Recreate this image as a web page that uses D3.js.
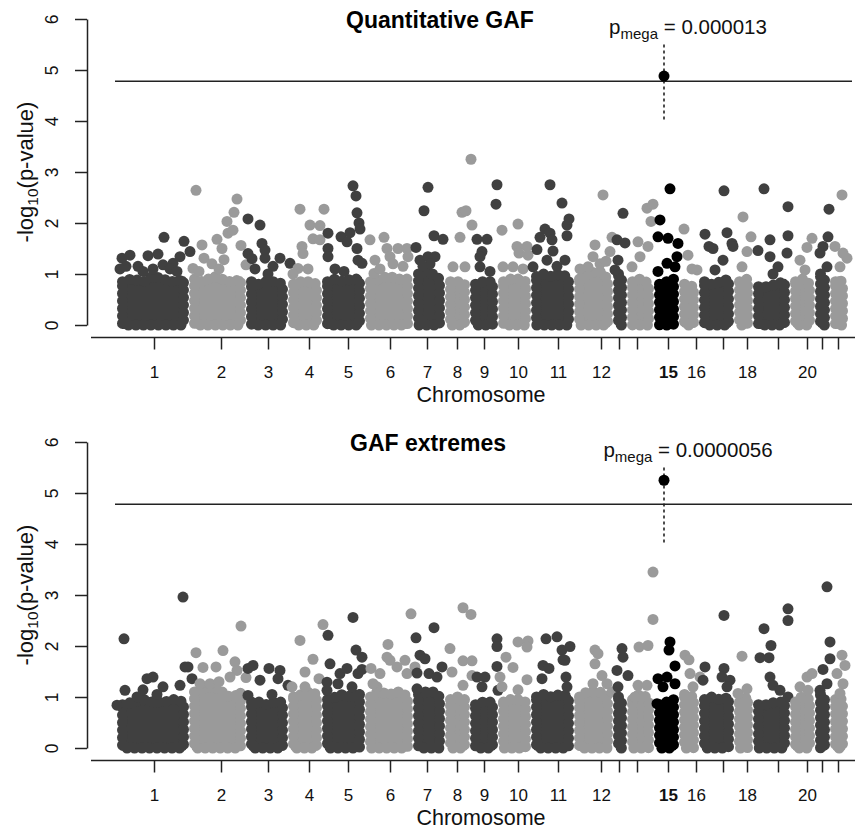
<!DOCTYPE html>
<html>
<head>
<meta charset="utf-8">
<script src="https://cdn.jsdelivr.net/npm/d3@7"></script>
<style>
  body { margin: 0; background: #fff; }
  svg { display: block; font-family: "Liberation Sans", Arial, sans-serif; }
</style>
</head>
<body>
<div id="chart"></div>
<script>
// chromosome layout (marker index units)
const chromosomes = d3.range(1, 23);
const chrLength = [720, 570, 420, 340, 430, 480, 320, 250, 280, 330, 430, 390, 140, 270, 250, 200, 350, 190, 370, 250, 150, 180];
const chrTickPos = [370, 320, 220, 210, 260, 250, 140, 120, 140, 200, 270, 270, 60, 100, 140, 170, 240, 130, 250, 170, 70, 80];
const chrLabelled = [1, 2, 3, 4, 5, 6, 7, 8, 9, 10, 11, 12, 15, 16, 18, 20];
const highlightChr = 15;
const threshold = 4.78;
const yTicks = [0, 1, 2, 3, 4, 5, 6];

const panelTitles = ['Quantitative GAF', 'GAF extremes'];

// upper edge of the dense block of points, sampled evenly along each chromosome
const quantProfile = [
  "0.85 0.9 0.85 0.95 0.9 0.85 0.9", "0.9 0.85 0.95 0.9 0.85 0.9", "0.85 0.8 0.85 0.85 0.8",
  "0.8 0.85 0.85 0.8", "0.85 0.9 0.85 0.9 0.9", "0.85 0.9 0.95 0.9 0.9", "1.0 1.05 1.0 0.9",
  "0.85 0.85 0.8", "0.8 0.85 0.85", "0.85 0.9 0.9 0.85", "0.95 1.0 0.95 1.0 0.9",
  "0.9 1.0 1.05 0.9", "1.0 0.95", "0.85 0.9 0.8", "0.8 0.85 0.9", "0.8 0.75",
  "0.85 0.8 0.85 0.9", "0.85 0.9", "0.75 0.75 0.8 0.85", "0.85 0.9 0.8", "1.0 0.9", "0.85 0.9 0.8"
];
const extremeProfile = [
  "0.85 0.9 0.95 0.9 0.9 0.95 0.9", "1.1 1.15 1.2 1.1 1.0 1.1", "0.9 0.9 0.85 0.9 0.9",
  "1.0 1.05 1.1 1.05", "0.95 1.0 1.05 1.0 1.1", "1.0 1.1 1.05 1.1 1.0", "1.05 1.1 1.1 1.0",
  "0.95 1.0 0.95", "0.85 0.9 0.9", "0.9 0.95 0.95 0.9", "1.0 1.05 1.0 1.05 1.0",
  "1.0 1.1 1.1 1.0", "1.0 0.95", "0.95 1.05 0.95", "0.85 0.9 0.95", "1.05 1.0",
  "0.95 1.0 0.95 1.0", "0.9 1.0", "0.85 0.85 0.9 0.9", "0.9 1.0 0.95", "1.05 1.0", "0.95 1.0 0.9"
];

// points standing out above the block: "position:-log10(p)"
const quantPoints = [
  "50:1.31 130:1.37 90:1.15 310:1.36 410:1.39 470:1.72 460:1.18 560:1.21 670:1.64 630:1.34 730:1.44 210:1.15 260:1.05 530:1.1 30:1.1 360:1.1 600:1.05",
  "70:2.64 130:1.57 40:1.11 150:1.31 280:1.68 330:1.5 380:2.03 390:1.8 440:1.86 450:2.21 480:2.47 520:1.56 350:1.28 570:1.18 230:1.2 100:1.05 300:1.1",
  "20:2.08 140:1.96 20:1.4 60:1.3 160:1.6 190:1.47 190:1.31 340:1.31 270:1.15 440:1.21 90:1.1 220:1.0",
  "120:2.27 140:1.54 150:1.4 220:1.96 250:1.69 320:1.95 360:2.27 100:1.11 200:1.1 320:1.67 50:1.0",
  "60:1.8 60:1.5 60:1.34 190:1.73 250:1.63 280:1.81 310:2.73 340:2.53 350:2.2 370:2.0 380:1.88 350:1.5 360:1.27 400:1.21 130:1.1 220:1.05",
  "50:1.67 190:1.72 220:1.5 100:1.27 330:1.5 420:1.5 250:1.34 430:1.34 280:1.2 90:1.01 380:1.15 150:1.1",
  "30:1.52 110:2.24 150:2.7 210:1.75 300:1.68 70:1.27 150:1.34 220:1.34 170:1.2 100:1.15",
  "150:1.72 170:2.21 210:2.24 260:3.25 270:1.96 200:1.14 80:1.14",
  "70:1.68 170:1.68 120:1.44 100:1.34 270:2.75 260:2.37 100:1.14 200:1.05",
  "40:1.86 200:1.98 190:1.54 290:1.54 210:1.41 300:1.37 50:1.14 150:1.14 250:1.1",
  "20:1.14 60:1.48 90:1.72 140:1.88 190:1.8 210:1.67 190:2.75 220:1.45 310:2.39 360:1.96 360:1.75 340:1.27 160:1.27 380:2.08 260:1.15",
  "290:2.55 210:1.57 380:1.72 360:1.44 190:1.34 140:1.14 260:1.2 60:1.1 320:1.25",
  "100:2.19 40:1.67 120:1.61 50:1.27 20:1.08",
  "200:2.29 260:2.37 240:2.03 110:1.63 210:1.54 130:1.34 50:1.14",
  "160:2.67 60:2.06 40:1.73 140:1.7 240:1.6 230:1.34 130:1.21 210:1.14 40:1.05",
  "50:1.88 90:1.37 180:1.08 130:1.1",
  "60:1.78 100:1.54 140:1.5 250:2.63 280:1.81 330:1.6 340:1.54 240:1.27 160:1.08",
  "90:2.12 170:1.73 130:1.44 80:1.14",
  "110:2.67 50:1.46 170:1.67 170:1.34 350:2.32 350:1.75 340:1.41 250:1.14 200:1.0",
  "170:1.52 220:1.7 100:1.27 150:1.08",
  "140:2.27 130:1.73 80:1.54 50:1.41 120:1.14",
  "120:2.55 50:1.54 130:1.41 170:1.31 100:1.14"
];
const extremePoints = [
  "70:2.14 660:2.96 0:0.84 80:1.13 300:1.36 360:1.39 260:1.14 460:1.2 630:1.23 680:1.59 710:1.59 750:1.36 200:1.0 400:1.05",
  "70:1.87 140:1.58 270:1.59 340:1.91 520:2.39 460:1.69 480:1.52 410:1.39 570:1.38 110:1.26 210:1.26 300:1.3",
  "20:1.56 70:1.62 140:1.33 230:1.56 340:1.52 320:1.36 420:1.23 20:1.03 260:1.05",
  "120:2.11 170:1.49 250:1.74 350:2.42 310:1.36 40:1.2 170:1.2",
  "60:2.21 80:1.65 50:1.29 50:1.13 310:2.56 340:1.92 400:1.78 360:1.46 180:1.46 250:1.56 160:1.26 300:1.2 400:1.54",
  "60:1.56 120:1.2 150:1.46 230:2.03 220:1.78 250:1.72 320:1.59 400:1.72 420:1.46 460:2.63 500:1.59 80:1.26",
  "30:2.16 70:1.82 120:1.75 40:1.47 210:2.36 160:1.46 240:1.39 290:1.59 40:1.16",
  "50:1.95 180:2.75 260:2.62 180:1.71 270:1.71 270:1.42 70:1.49 180:1.23",
  "70:1.39 150:1.39 270:2.14 270:1.99 270:1.6 280:1.13 120:1.2",
  "80:1.78 150:1.58 200:2.08 300:2.1 290:1.98 290:1.34 200:1.14 20:1.39 40:1.2",
  "150:2.14 260:2.18 310:1.92 390:1.99 320:1.73 120:1.62 180:1.56 350:1.39 110:1.36 360:1.2 340:1.72",
  "210:1.92 240:1.85 210:1.65 280:1.42 190:1.26 330:1.26 380:1.1",
  "90:1.95 100:1.78 40:1.52 150:1.42 50:1.2",
  "120:1.98 210:2.01 260:3.45 260:2.52 110:1.23 200:1.23 80:1.0",
  "160:2.08 150:1.92 210:1.61 40:1.36 130:1.39 210:1.26 30:0.87 90:1.2",
  "60:1.82 100:1.73 110:1.46 210:1.39 140:1.2",
  "60:1.59 40:1.33 250:2.6 250:1.56 230:1.39 310:1.33 280:1.2",
  "80:1.8 40:1.07 130:1.16",
  "110:2.34 70:1.77 160:1.77 180:2.01 170:1.39 200:1.23 270:1.13 350:2.73 350:2.5 350:1.0",
  "170:1.39 220:1.46 100:1.2 180:1.13",
  "120:3.16 150:2.08 150:1.75 80:1.54 120:1.26 50:1.13",
  "120:1.82 150:1.62 70:1.46 130:1.26 100:1.07"
];

// mega-analysis hit on chromosome 15
const peakPos = [100, 100];
const peakLogP = [4.88, 5.25];
const peakLabel = ['0.000013', '0.0000056'];

const panelProfile = [quantProfile, extremeProfile];
const panelPoints = [quantPoints, extremePoints];

const width = 855, height = 829;
const panelTopY = [19, 442], plotH = 306;
const titleX = [440, 428];
const dark = '#404040', light = '#9a9a9a', ink = '#222';
const r = 5.5;

const chrStart = Array.from(d3.cumsum([0, ...chrLength])).slice(0, chrLength.length);
const xs = d3.scaleLinear().domain([0, d3.sum(chrLength)]).range([117, 848]);

function parsePoints(str) {
  return str.split(' ').map(s => s.split(':').map(Number));
}

const svg = d3.select('#chart').append('svg')
  .attr('width', width)
  .attr('height', height);

svg.append('rect').attr('width', width).attr('height', height).attr('fill', '#fff');

function drawPanel(i) {
  const y = d3.scaleLinear().domain([0, 6]).range([panelTopY[i] + plotH, panelTopY[i]]);
  const g = svg.append('g').attr('class', 'panel');

  // points, chromosome by chromosome so later ones sit on top
  chromosomes.forEach((chr, c) => {
    const colour = chr === highlightChr ? '#000' : (c % 2 ? light : dark);
    const x0 = xs(chrStart[c]) + r, x1 = xs(chrStart[c] + chrLength[c]) - r;
    const profile = panelProfile[i][c].split(' ').map(Number);
    const px = d3.scaleLinear().domain([0, profile.length - 1]).range([x0, Math.max(x0, x1)]);
    const cg = g.append('g');

    const block = d3.area()
      .x((d, k) => px(k))
      .y0(y(0))
      .y1(d => y(d))
      .curve(d3.curveMonotoneX);

    // solid core of the overplotted points
    cg.append('path')
      .attr('d', block(profile))
      .attr('fill', colour)
      .attr('stroke', colour)
      .attr('stroke-width', r)
      .attr('stroke-linejoin', 'round');

    // a rim of dots round the core gives the scalloped edge
    cg.append('path')
      .attr('d', block(profile))
      .attr('fill', 'none')
      .attr('stroke', colour)
      .attr('stroke-width', 2 * r)
      .attr('stroke-linecap', 'round')
      .attr('stroke-dasharray', '0 7.5');

    cg.selectAll('circle')
      .data(parsePoints(panelPoints[i][c]))
      .join('circle')
      .attr('cx', d => xs(chrStart[c] + d[0]))
      .attr('cy', d => y(d[1]))
      .attr('r', r)
      .attr('fill', colour);
  });

  // significance threshold
  g.append('line')
    .attr('x1', xs.range()[0] - 2).attr('x2', xs.range()[1] + 4)
    .attr('y1', y(threshold)).attr('y2', y(threshold))
    .attr('stroke', ink).attr('stroke-width', 1.5);

  // mega-analysis marker
  const peakX = xs(chrStart[highlightChr - 1] + peakPos[i]);
  g.append('line')
    .attr('x1', peakX).attr('x2', peakX)
    .attr('y1', y(5.5)).attr('y2', y(4))
    .attr('stroke', ink).attr('stroke-width', 1.6)
    .attr('stroke-dasharray', '3,3');

  g.append('circle')
    .attr('cx', peakX).attr('cy', y(peakLogP[i]))
    .attr('r', r).attr('fill', '#000');

  const pText = g.append('text')
    .attr('x', peakX + 24).attr('y', panelTopY[i] + 15)
    .attr('text-anchor', 'middle')
    .attr('font-size', 20.5)
    .attr('fill', '#111');
  pText.append('tspan').text('p');
  pText.append('tspan').attr('font-size', 15).attr('dy', 5).text('mega');
  pText.append('tspan').attr('dy', -5).text(' = ' + peakLabel[i]);

  // y axis
  const yAxis = g.append('g')
    .attr('transform', 'translate(87,0)')
    .call(d3.axisLeft(y).tickValues(yTicks).tickSize(12).tickSizeOuter(0).tickFormat(d3.format('d')));
  yAxis.select('.domain').attr('stroke', ink).attr('stroke-width', 1.5);
  yAxis.selectAll('.tick line').attr('stroke', ink).attr('stroke-width', 1.5);
  yAxis.selectAll('.tick text')
    .attr('transform', 'rotate(-90)')
    .attr('x', 0).attr('y', -29).attr('dy', null)
    .attr('text-anchor', 'middle')
    .attr('font-size', 17.5)
    .attr('font-family', '"Liberation Sans", Arial, sans-serif')
    .attr('fill', '#111');

  const yLab = g.append('text')
    .attr('transform', `translate(33,${(y(0) + y(6)) / 2}) rotate(-90)`)
    .attr('text-anchor', 'middle')
    .attr('font-size', 22)
    .attr('fill', '#111');
  yLab.append('tspan').text('-log');
  yLab.append('tspan').attr('font-size', 15.5).attr('dy', 5).text('10');
  yLab.append('tspan').attr('dy', -5).text('(p-value)');

  // x axis
  const axisY = y(0) + 12.5;
  g.append('line')
    .attr('x1', 91).attr('x2', width)
    .attr('y1', axisY).attr('y2', axisY)
    .attr('stroke', ink).attr('stroke-width', 1.5);

  const xAxis = g.append('g')
    .attr('transform', `translate(0,${axisY})`)
    .call(d3.axisBottom(xs)
      .tickValues(chromosomes.map((chr, c) => chrStart[c] + chrTickPos[c]))
      .tickSize(12)
      .tickFormat((d, k) => chrLabelled.includes(chromosomes[k]) ? chromosomes[k] : ''));
  xAxis.select('.domain').remove();
  xAxis.selectAll('.tick line').attr('stroke', ink).attr('stroke-width', 1.5);
  xAxis.selectAll('.tick text')
    .attr('y', 40.5).attr('dy', null)
    .attr('font-size', 17)
    .attr('font-family', '"Liberation Sans", Arial, sans-serif')
    .attr('font-weight', (d, k) => chromosomes[k] === highlightChr ? 'bold' : 'normal')
    .attr('fill', '#111');

  g.append('text')
    .attr('x', 481).attr('y', y(0) + 76.5)
    .attr('text-anchor', 'middle')
    .attr('font-size', 21.5)
    .attr('fill', '#111')
    .text('Chromosome');

  g.append('text')
    .attr('x', titleX[i]).attr('y', panelTopY[i] + 9)
    .attr('text-anchor', 'middle')
    .attr('font-size', 23)
    .attr('font-weight', 'bold')
    .attr('fill', '#000')
    .text(panelTitles[i]);
}

drawPanel(0);
drawPanel(1);
</script>
</body>
</html>
